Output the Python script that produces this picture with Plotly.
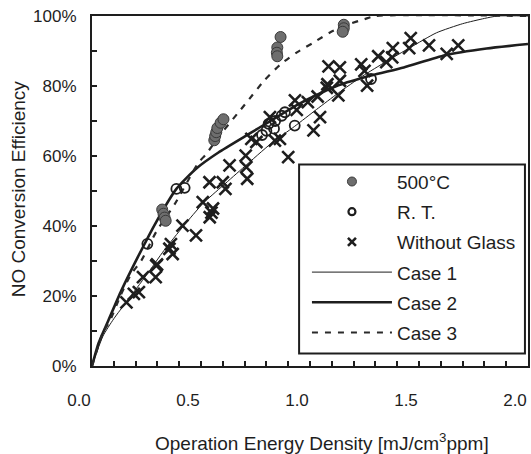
import plotly.graph_objects as go

# ---------------- data ----------------
# 500°C (filled circles)
hot_x = [0.322, 0.328, 0.333, 0.338,
         0.561, 0.565, 0.570, 0.575, 0.590, 0.603,
         0.865, 0.850, 0.848, 0.850,
         1.155, 1.155, 1.150]
hot_y = [0.447, 0.435, 0.424, 0.415,
         0.645, 0.657, 0.668, 0.680, 0.695, 0.705,
         0.940, 0.910, 0.895, 0.885,
         0.975, 0.965, 0.955]

# R. T. (open circles)
rt_x = [0.254, 0.387, 0.425, 0.780, 0.800, 0.810, 0.835, 0.840, 0.870, 0.885, 0.930, 1.280]
rt_y = [0.349, 0.506, 0.509, 0.660, 0.672, 0.692, 0.678, 0.700, 0.715, 0.725, 0.687, 0.820]

# Without Glass (crosses)
wg_x = [0.158, 0.192, 0.215, 0.234, 0.292, 0.295, 0.298, 0.355, 0.362, 0.370,
        0.415, 0.477, 0.508, 0.539, 0.540, 0.548, 0.555, 0.600, 0.612, 0.631,
        0.705, 0.708, 0.712, 0.731, 0.754, 0.816, 0.839, 0.862, 0.900, 0.931,
        0.939, 0.990, 1.016, 1.046, 1.035, 1.077, 1.080, 1.085, 1.137, 1.130,
        1.137, 1.235, 1.250, 1.262, 1.313, 1.350, 1.380, 1.377, 1.462, 1.455,
        1.546, 1.627, 1.680]
wg_y = [0.182, 0.206, 0.211, 0.254, 0.254, 0.287, 0.290, 0.335, 0.348, 0.320,
        0.401, 0.373, 0.468, 0.525, 0.425, 0.438, 0.450, 0.525, 0.506, 0.573,
        0.601, 0.568, 0.535, 0.649, 0.640, 0.711, 0.644, 0.649, 0.597, 0.759,
        0.732, 0.754, 0.673, 0.711, 0.770, 0.795, 0.805, 0.856, 0.853, 0.773,
        0.815, 0.862, 0.843, 0.801, 0.885, 0.868, 0.908, 0.882, 0.937, 0.908,
        0.916, 0.892, 0.916]

# Case curves
case1_x = [0, 0.05, 0.10, 0.16, 0.25, 0.33, 0.42, 0.51, 0.60, 0.70, 0.82, 0.93,
           1.03, 1.13, 1.24, 1.35, 1.46, 1.58, 1.70, 1.80, 1.86, 2.0]
case1_y = [0, 0.085, 0.135, 0.185, 0.26, 0.33, 0.40, 0.465, 0.515, 0.57, 0.635, 0.685,
           0.733, 0.78, 0.828, 0.87, 0.91, 0.952, 0.978, 0.993, 1.0, 1.0]

case2_x = [0, 0.03, 0.075, 0.135, 0.21, 0.295, 0.387, 0.48, 0.58, 0.72, 0.81, 0.95,
           1.05, 1.13, 1.28, 1.43, 1.62, 1.81, 2.0]
case2_y = [0, 0.065, 0.13, 0.216, 0.311, 0.412, 0.506, 0.565, 0.61, 0.663, 0.697, 0.749,
           0.78, 0.802, 0.83, 0.853, 0.888, 0.907, 0.92]

case3_x = [0, 0.05, 0.083, 0.13, 0.18, 0.226, 0.296, 0.38, 0.485, 0.524, 0.60, 0.667,
           0.713, 0.789, 0.865, 0.94, 1.016, 1.092, 1.17, 1.25, 1.30, 2.0]
case3_y = [0, 0.095, 0.13, 0.20, 0.263, 0.301, 0.385, 0.463, 0.578, 0.606, 0.67, 0.721,
           0.756, 0.815, 0.862, 0.896, 0.924, 0.953, 0.975, 0.991, 1.0, 1.0]

x_tick_vals = [0, 0.5, 1.0, 1.5, 2.0]
x_tick_text = ["0.0", "0.5", "1.0", "1.5", "2.0"]
y_tick_vals = [0, 0.2, 0.4, 0.6, 0.8, 1.0]
y_tick_text = ["0%", "20%", "40%", "60%", "80%", "100%"]

legend_names = ["500°C", "R. T.", "Without Glass", "Case 1", "Case 2", "Case 3"]

# ---------------- figure ----------------
INK = "#1e1e1e"
FONT = "Liberation Sans, Arial, sans-serif"

fig = go.Figure()

# legend entries for the point series (smaller symbols as in the original)
fig.add_trace(go.Scatter(x=[None], y=[None], mode="markers", name=legend_names[0],
                         legendgroup="hot",
                         marker=dict(symbol="circle", size=9, color="#6e6e6e",
                                     line=dict(color="#3a3a3a", width=1))))
fig.add_trace(go.Scatter(x=[None], y=[None], mode="markers", name=legend_names[1],
                         legendgroup="rt",
                         marker=dict(symbol="circle-open", size=7, color=INK,
                                     line=dict(width=2.2))))
fig.add_trace(go.Scatter(x=[None], y=[None], mode="markers", name=legend_names[2],
                         legendgroup="wg",
                         marker=dict(symbol="x-thin-open", size=8, color=INK,
                                     line=dict(width=2.6))))

# curves
fig.add_trace(go.Scatter(x=case1_x, y=case1_y, mode="lines", name=legend_names[3],
                         legendgroup="c1",
                         line=dict(color=INK, width=1, shape="spline", smoothing=0.6)))
fig.add_trace(go.Scatter(x=case2_x, y=case2_y, mode="lines", name=legend_names[4],
                         legendgroup="c2",
                         line=dict(color=INK, width=2.6, shape="spline", smoothing=0.6)))
fig.add_trace(go.Scatter(x=case3_x, y=case3_y, mode="lines", name=legend_names[5],
                         legendgroup="c3",
                         line=dict(color="#2a2a2a", width=2.2, dash="6px,7px",
                                   shape="spline", smoothing=0.6)))

# data points
fig.add_trace(go.Scatter(x=wg_x, y=wg_y, mode="markers", showlegend=False,
                         legendgroup="wg", name=legend_names[2],
                         marker=dict(symbol="x-thin-open", size=12, color=INK,
                                     line=dict(width=2.6))))
fig.add_trace(go.Scatter(x=rt_x, y=rt_y, mode="markers", showlegend=False,
                         legendgroup="rt", name=legend_names[1],
                         marker=dict(symbol="circle-open", size=10, color=INK,
                                     line=dict(width=1.8))))
fig.add_trace(go.Scatter(x=hot_x, y=hot_y, mode="markers", showlegend=False,
                         legendgroup="hot", name=legend_names[0],
                         marker=dict(symbol="circle", size=11, color="#6e6e6e",
                                     line=dict(color="#3a3a3a", width=1))))

axis_common = dict(showline=True, linewidth=2, linecolor=INK, mirror=True,
                   ticks="inside", ticklen=5, tickwidth=2, tickcolor=INK,
                   showgrid=False, zeroline=False,
                   tickfont=dict(size=17, color=INK, family=FONT))

fig.update_xaxes(range=[0, 2.0], tickmode="array", tickvals=x_tick_vals,
                 ticktext=x_tick_text, ticklabelshift=-13, ticklabelstandoff=18,
                 minor=dict(ticks="inside", dtick=0.1, tick0=0, ticklen=5,
                            tickwidth=2, tickcolor=INK),
                 **axis_common)
fig.update_yaxes(range=[0, 1.0], tickmode="array", tickvals=y_tick_vals,
                 ticktext=y_tick_text, ticklabelstandoff=10,
                 minor=dict(ticks="inside", dtick=0.1, tick0=0, ticklen=5,
                            tickwidth=2, tickcolor=INK),
                 **axis_common)

fig.update_layout(
    width=531, height=454,
    margin=dict(l=92, r=1, t=16, b=88),
    paper_bgcolor="white", plot_bgcolor="white",
    font=dict(family=FONT, color=INK, size=19),
    legend=dict(x=0.493, y=0.581, xanchor="left", yanchor="top",
                bgcolor="rgba(0,0,0,0)", borderwidth=0,
                font=dict(size=19, family=FONT, color=INK),
                itemwidth=80, tracegroupgap=2.5, traceorder="grouped"),
    shapes=[dict(type="rect", xref="paper", yref="paper",
                 x0=0.475, x1=0.993, y0=0.036, y1=0.576,
                 line=dict(color=INK, width=2), fillcolor="white", layer="above")],
    annotations=[
        dict(text="NO Conversion Efficiency", xref="paper", yref="paper",
             x=-0.168, y=0.507, xanchor="center", yanchor="middle",
             textangle=-90, showarrow=False, font=dict(size=19, family=FONT, color=INK)),
        dict(text="Operation Energy Density [mJ/cm<sup>3</sup>ppm]", xref="paper", yref="paper",
             x=0.527, y=-0.216, xanchor="center", yanchor="middle",
             showarrow=False, font=dict(size=19, family=FONT, color=INK)),
    ],
)

fig.write_html("out.html", config={"displayModeBar": False},
               post_script="document.body.style.margin='0';document.body.style.overflow='hidden';")
